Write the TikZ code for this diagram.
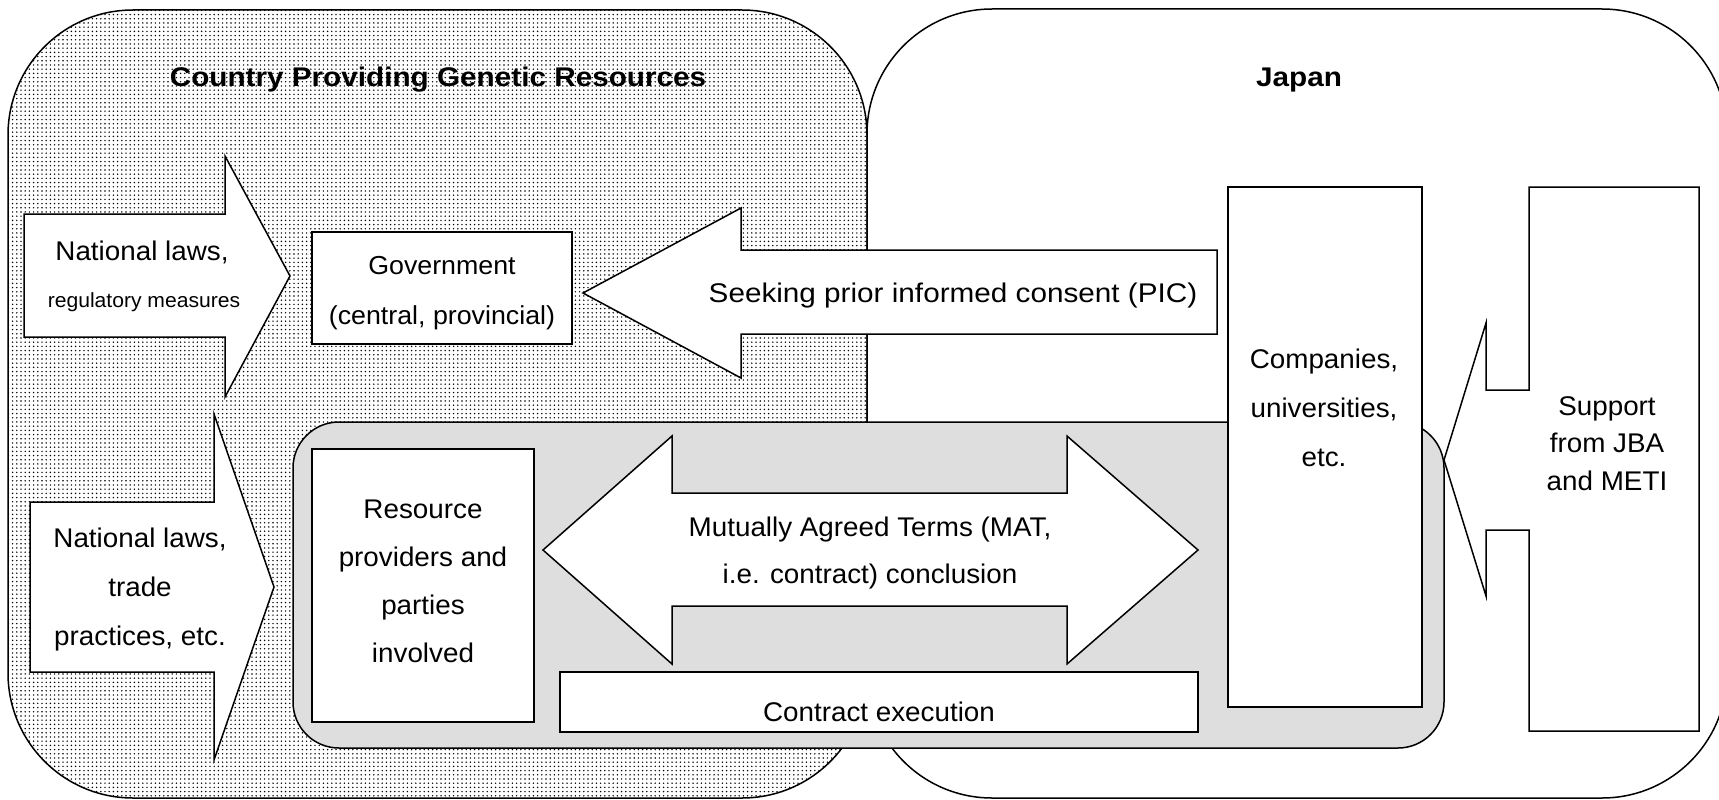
\documentclass[tikz,border=0pt]{standalone}
\usepackage{fontspec}
\setmainfont{Liberation Sans}[FakeStretch=1.03]
\newfontfamily\widefont{Liberation Sans}[FakeStretch=1.1]
\usetikzlibrary{patterns.meta}

\tikzset{
  region/.style={draw, line width=1.5pt, rounded corners=125pt},
  box/.style={draw, fill=white, line width=1.5pt, inner sep=0pt},
  blockarrow/.style={draw, fill=white, line width=1.5pt, line join=miter},
  txt/.style={font=\fontsize{27}{48}\selectfont, align=center, inner sep=0pt,
    execute at begin node=\strut, execute at end node=\strut},
  heading/.style={txt, font=\widefont\bfseries\fontsize{27}{48}\selectfont},
}

\begin{document}
\begin{tikzpicture}[x=1pt, y=-1pt]
\useasboundingbox (0,0) rectangle (1719,800);
\fill[white] (0,0) rectangle (1719,800);

% the two countries
\draw[region, preaction={fill=white}, pattern={Dots[distance=4.2pt, radius=0.8pt]}] (8,10) rectangle (867,798);
\draw[region, fill=white] (867,9) rectangle (1727,798);
\node[heading] (provider) at (438,77) {Country Providing Genetic Resources};
\node[heading] (japan) at (1299,77) {Japan};

% contract area
\draw[line width=1.5pt, fill=black!13, rounded corners=46pt] (293,422) rectangle (1444,748);

% laws
\draw[blockarrow] (24,214) -- (225,214) -- (225,156) -- (290,276) -- (225,397) -- (225,337) -- (24,337) -- cycle;
\node[txt] (laws1) at (142,251) {National laws,};
\node[txt, font=\fontsize{20.5}{40}\selectfont] (regul) at (144,299) {regulatory measures};
\draw[blockarrow] (30,502) -- (214,502) -- (214,414) -- (274,587) -- (214,760) -- (214,672) -- (30,672) -- cycle;
\node[txt, font=\fontsize{27}{49}\selectfont] (laws2) at (140,594.5) {National laws,\\trade\\practices, etc.};

% government and PIC
\node[box, minimum width=260pt, minimum height=112pt] (gov) at (442,288) {};
\node[txt, font=\fontsize{26}{50}\selectfont] (govtext) at (442,297.5) {Government\\(central, provincial)};
\draw[blockarrow] (1217,250) -- (741,250) -- (741,208) -- (583,293) -- (741,378) -- (741,334) -- (1217,334) -- cycle;
\node[txt, font=\widefont\fontsize{27}{48}\selectfont] (pic) at (953,293) {Seeking prior informed consent (PIC)};

% MAT
\node[box, minimum width=222pt, minimum height=273pt] (res) at (423,585.5) {};
\node[txt] (restext) at (423,588.5) {Resource\\providers and\\parties\\involved};
\draw[blockarrow] (543,550) -- (672,436) -- (672,493) -- (1067,493) -- (1067,436) -- (1198,550)
  -- (1067,664) -- (1067,606) -- (672,606) -- (672,664) -- cycle;
\node[txt, font=\fontsize{27}{47}\selectfont] (mat) at (870,557) {Mutually Agreed Terms (MAT,\\i.e. contract) conclusion};
\node[box, minimum width=638pt, minimum height=60pt] (exec) at (879,702) {};
\node[txt] (exectext) at (879,712) {Contract execution};

% Japanese side
\node[box, minimum width=194pt, minimum height=520pt] (comp) at (1325,447) {};
\node[txt, font=\fontsize{27}{49}\selectfont] (comptext) at (1324,415) {Companies,\\universities,\\etc.};
\draw[blockarrow] (1529,187) -- (1699,187) -- (1699,731) -- (1529,731) -- (1529,530) -- (1486,530)
  -- (1486,596) -- (1444,460) -- (1486,323) -- (1486,390) -- (1529,390) -- cycle;
\node[txt, font=\fontsize{27}{37.5}\selectfont] (support) at (1607,449) {Support\\from JBA\\and METI};
\end{tikzpicture}
\end{document}
